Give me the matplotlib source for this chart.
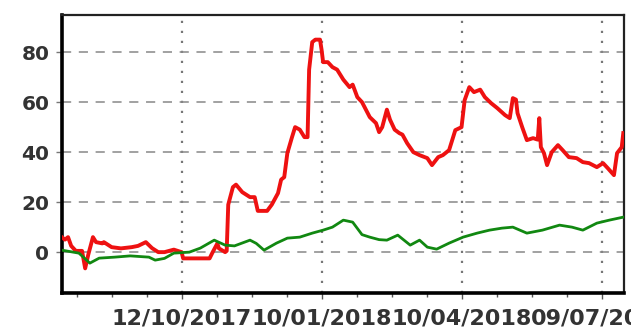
import numpy as np
import pandas as pd
import matplotlib
matplotlib.use('Agg')
import matplotlib.pyplot as plt
import matplotlib.dates as mdates
from matplotlib.ticker import FixedLocator

# serie vermelha
red_dates = ['2017-07-27', '2017-07-29', '2017-07-31', '2017-08-02', '2017-08-05', '2017-08-09',
             '2017-08-11', '2017-08-13', '2017-08-16', '2017-08-18', '2017-08-22', '2017-08-23',
             '2017-08-28', '2017-09-03', '2017-09-10', '2017-09-14', '2017-09-19', '2017-09-23',
             '2017-09-27', '2017-10-01', '2017-10-07', '2017-10-12', '2017-10-13', '2017-10-27',
             '2017-10-30', '2017-11-01', '2017-11-04', '2017-11-05', '2017-11-09', '2017-11-10',
             '2017-11-11', '2017-11-14', '2017-11-16', '2017-11-20', '2017-11-25', '2017-11-28',
             '2017-11-30', '2017-12-06', '2017-12-09', '2017-12-13', '2017-12-15', '2017-12-17',
             '2017-12-19', '2017-12-22', '2017-12-24', '2017-12-27', '2017-12-30', '2018-01-01',
             '2018-01-02', '2018-01-04', '2018-01-06', '2018-01-09', '2018-01-10', '2018-01-11',
             '2018-01-14', '2018-01-17', '2018-01-20', '2018-01-24', '2018-01-28', '2018-01-30',
             '2018-02-02', '2018-02-05', '2018-02-10', '2018-02-14', '2018-02-16', '2018-02-18',
             '2018-02-21', '2018-02-23', '2018-02-26', '2018-03-01', '2018-03-03', '2018-03-06',
             '2018-03-10', '2018-03-14', '2018-03-19', '2018-03-22', '2018-03-26', '2018-03-29',
             '2018-04-02', '2018-04-06', '2018-04-10', '2018-04-12', '2018-04-15', '2018-04-18',
             '2018-04-22', '2018-04-25', '2018-04-29', '2018-05-03', '2018-05-08', '2018-05-11',
             '2018-05-13', '2018-05-15', '2018-05-16', '2018-05-19', '2018-05-22', '2018-05-26',
             '2018-05-29', '2018-05-30', '2018-05-31', '2018-06-02', '2018-06-04', '2018-06-07',
             '2018-06-11', '2018-06-14', '2018-06-18', '2018-06-23', '2018-06-27', '2018-07-01',
             '2018-07-06', '2018-07-10', '2018-07-13', '2018-07-17', '2018-07-19', '2018-07-22',
             '2018-07-23']
red_vals = [6, 5, 6, 2.5, 0.5, 0.5,
            -6.5, -1, 6, 4, 3.5, 4,
            2, 1.5, 2, 2.5, 4, 1.6,
            0, 0, 1, 0, -2.5, -2.5,
            -2.5, 0, 3.5, 1.5, 0, 0.5,
            19, 26, 27, 24, 22, 22,
            16.5, 16.5, 19, 23.6, 29, 30,
            39.6, 46, 50, 49, 46, 46,
            73, 84, 85, 85, 81, 76,
            76, 74, 73, 69, 66, 67,
            62, 60, 54, 51.6, 48, 50,
            57, 53, 49, 47.6, 47, 43.6,
            40, 38.8, 37.6, 34.8, 38, 38.8,
            40.8, 48.8, 50, 60.8, 66, 64,
            65, 62, 59.6, 57.6, 54.8, 53.6,
            61.6, 61, 55.6, 50, 44.8, 45.6,
            45, 53.6, 42, 39.6, 34.8, 40,
            42.8, 40.8, 38, 37.6, 36, 35.6,
            34, 35.6, 33.6, 30.8, 39.6, 42,
            47.6]

# serie verde
green_dates = ['2017-07-27', '2017-08-07', '2017-08-14', '2017-08-20', '2017-08-30', '2017-09-09',
               '2017-09-21', '2017-09-25', '2017-10-01', '2017-10-07', '2017-10-17', '2017-10-24',
               '2017-11-02', '2017-11-09', '2017-11-15', '2017-11-25', '2017-11-29', '2017-12-04',
               '2017-12-12', '2017-12-19', '2017-12-27', '2018-01-04', '2018-01-11', '2018-01-17',
               '2018-01-24', '2018-01-30', '2018-02-05', '2018-02-10', '2018-02-16', '2018-02-21',
               '2018-02-28', '2018-03-08', '2018-03-14', '2018-03-19', '2018-03-25', '2018-04-02',
               '2018-04-11', '2018-04-20', '2018-04-28', '2018-05-06', '2018-05-13', '2018-05-22',
               '2018-06-01', '2018-06-12', '2018-06-20', '2018-06-27', '2018-07-06', '2018-07-14',
               '2018-07-23']
green_vals = [0.8, -0.4, -4.4, -2.4, -2, -1.5,
              -2, -3.2, -2.5, -0.4, 0, 1.6,
              4.8, 2.8, 2.5, 4.8, 3.5, 0.8,
              3.6, 5.6, 6, 7.6, 8.8, 10,
              12.8, 12, 7, 6, 5, 4.8,
              6.8, 2.8, 4.8, 2, 1.2, 3.6,
              6, 7.6, 8.8, 9.6, 10, 7.6,
              8.8, 10.8, 10, 8.8, 11.6, 12.8,
              14]

tick_dates = ['2017-10-12', '2018-01-10', '2018-04-10', '2018-07-09']
y_ticks = [0, 20, 40, 60, 80]

red_x = pd.to_datetime(red_dates)
green_x = pd.to_datetime(green_dates)
major = mdates.date2num(pd.to_datetime(tick_dates))

fig = plt.figure(figsize=(6.31, 3.29), dpi=100)
ax = fig.add_axes([0.098, 0.109, 0.891, 0.845])

ax.plot(red_x, red_vals, color='#ee1111', lw=2.8, zorder=3)
ax.plot(green_x, green_vals, color='#118811', lw=2.0, zorder=3)

ax.set_xlim(pd.Timestamp('2017-07-27'), pd.Timestamp('2018-07-23 12:00'))
ax.set_ylim(-16.4, 94.8)

# ticks
ax.xaxis.set_major_locator(FixedLocator(major))
step = major[1] - major[0]
minor = np.arange(major[0] - 4 * step, major[-1] + step, step / 4)
ax.xaxis.set_minor_locator(FixedLocator(minor))
ax.xaxis.set_major_formatter(mdates.DateFormatter('%d/%m/%Y'))
ax.set_yticks(y_ticks)

ax.tick_params(axis='x', which='major', length=4, width=1, color='#555555',
               labelsize=16, labelcolor='#333333', pad=7)
ax.tick_params(axis='x', which='minor', length=3, width=1, color='#555555')
ax.tick_params(axis='y', length=4, width=1, color='#777777',
               labelsize=14.5, labelcolor='#333333', pad=5)
for lab in ax.get_xticklabels() + ax.get_yticklabels():
    lab.set_fontweight('bold')

# grade
ax.grid(axis='y', color='#888888', lw=1.1, dashes=(6, 5))
ax.grid(axis='x', which='major', color='#777777', lw=1.6, dashes=(1, 3.5))

for s in ['left', 'bottom']:
    ax.spines[s].set_linewidth(2.6)
for s in ['top', 'right']:
    ax.spines[s].set_linewidth(1.6)
    ax.spines[s].set_color('#222222')

fig.savefig('out.png', dpi=100)
